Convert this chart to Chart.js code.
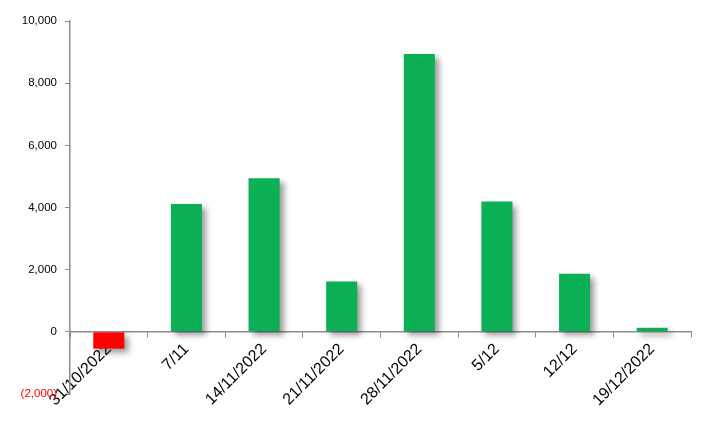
<!DOCTYPE html>
<html>
<head>
<meta charset="utf-8">
<script src="https://cdn.jsdelivr.net/npm/chart.js@4/dist/chart.umd.min.js"></script>
<style>
  html, body { margin: 0; padding: 0; background: #fff; }
  #wrap { width: 708px; height: 424px; position: relative; }
</style>
</head>
<body>
<div id="wrap"><canvas id="chart"></canvas></div>
<script>
const weeks = ['31/10/2022', '7/11', '14/11/2022', '21/11/2022', '28/11/2022', '5/12', '12/12', '19/12/2022'];
const values = [-540, 4110, 4940, 1620, 8940, 4190, 1870, 130];
const yTicks = [-2000, 0, 2000, 4000, 6000, 8000, 10000];

const GREEN = '#0aaf56';
const RED = '#ff0000';
const AXIS = '#8c8c8c';

const fmtNum = v => {
  const s = Math.abs(v).toLocaleString('en-US');
  return v < 0 ? '(' + s + ')' : s;
};

// soft drop shadow behind the bars, like the spreadsheet original
const barShadow = {
  id: 'barShadow',
  beforeDatasetsDraw(chart) {
    const c = chart.ctx;
    c.save();
    c.shadowColor = 'rgba(0,0,0,0.4)';
    c.shadowBlur = 6;
    c.shadowOffsetX = 4;
    c.shadowOffsetY = 4;
  },
  afterDatasetsDraw(chart) {
    chart.ctx.restore();
  }
};

new Chart(document.getElementById('chart'), {
  type: 'bar',
  data: {
    labels: weeks,
    datasets: [{
      data: values,
      backgroundColor: values.map(v => v < 0 ? RED : GREEN),
      borderWidth: 0,
      barPercentage: 0.4,
      categoryPercentage: 1
    }]
  },
  plugins: [barShadow],
  options: {
    responsive: true,
    maintainAspectRatio: false,
    animation: false,
    layout: { padding: { top: 21, right: 17, bottom: 30, left: 0 } },
    plugins: { legend: { display: false }, tooltip: { enabled: false } },
    scales: {
      x: {
        position: { y: 0 },
        grid: { display: true, offset: true, drawOnChartArea: false, color: AXIS, tickLength: 5 },
        border: { color: AXIS, width: 1.5 },
        ticks: {
          color: '#000',
          font: { family: 'Liberation Sans, Arial', size: 16 },
          minRotation: 45, maxRotation: 45, autoSkip: false, padding: 3
        }
      },
      y: {
        min: -2000, max: 10000,
        afterFit: s => { s.width = 70; },
        afterBuildTicks: s => { s.ticks = yTicks.map(v => ({ value: v })); },
        grid: { display: true, drawOnChartArea: false, color: AXIS, tickLength: 5 },
        border: { color: AXIS, width: 1.5 },
        ticks: {
          padding: 8,
          font: { family: 'Liberation Sans, Arial', size: 11.5 },
          color: ctx => ctx.tick.value < 0 ? RED : '#000',
          callback: v => fmtNum(v)
        }
      }
    }
  }
});
</script>
</body>
</html>
